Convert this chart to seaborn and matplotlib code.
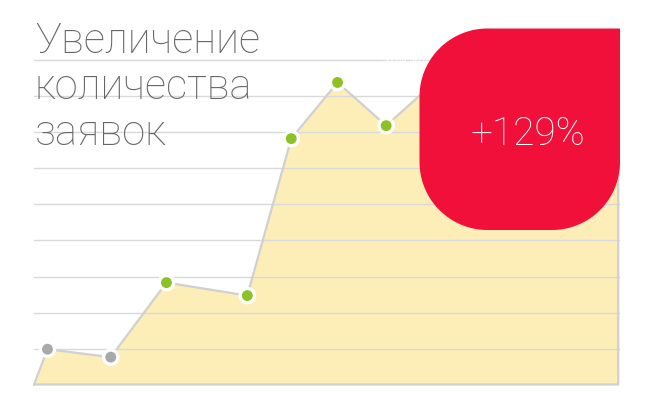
import matplotlib
matplotlib.use("Agg")
import matplotlib.pyplot as plt
from matplotlib.patches import Polygon
import numpy as np
import pandas as pd
import seaborn as sns

# ===== DATA =====
# position along the period (0..100) and number of requests (grid step = 1)
period_pos = [0, 2.3, 13.1, 22.6, 36.4, 43.9, 51.8, 60.1, 67.7, 75.5, 83.0, 91.0, 99.7]
requests = [0, 0.98, 0.76, 2.83, 2.47, 6.83, 8.39, 7.19, 8.3, 7.9, 8.6, 8.2, 8.0]
point_kind = ["old", "old", "new", "new", "new", "new", "new", "new", "new", "new", "new"]

title_lines = ["Увеличение", "количества", "заявок"]
badge_text = "+129%"
date_label = "22.08.2018"

FILL = "#fdeeb8"
LINE = "#d0d0d0"
GRID = "#d9d9d9"
RED = "#f0103a"
GREEN = "#8cc224"
GRAY = "#a9a9ad"
TEXT = "#666666"

sns.set_style("white")
plt.rcParams["font.family"] = ["Roboto", "DejaVu Sans"]

fig = plt.figure(figsize=(6.56, 4.11), dpi=100)

# main chart area (pixel layout of the original)
ax = fig.add_axes([34 / 656, 26.5 / 411, (620 - 34) / 656, 384.5 / 411])
ax.set_xlim(0, 100)
ax.set_ylim(0, 384.5 / 36)

ax.fill_between(period_pos, requests, color=FILL, lw=0, zorder=1)
ax.set_yticks(range(1, 10))
ax.grid(axis="y", color=GRID, lw=1.0, zorder=2)
ax.set_axisbelow(False)

# outline of the area: up the data, down the right edge, back along the base
outline = pd.DataFrame({
    "x": period_pos + [period_pos[-1], period_pos[0]],
    "y": requests + [0, 0],
})
sns.lineplot(data=outline, x="x", y="y", sort=False, estimator=None,
             color=LINE, lw=1.6, ax=ax, zorder=3, clip_on=False)

pts = pd.DataFrame({
    "x": period_pos[1:-1],
    "y": requests[1:-1],
    "kind": point_kind,
})
sns.scatterplot(data=pts, x="x", y="y", hue="kind",
                palette={"old": GRAY, "new": GREEN}, s=105,
                edgecolor="white", linewidth=2.4, ax=ax, zorder=4,
                legend=False, clip_on=False)

ax.set_xticks([])
ax.tick_params(left=False, labelleft=False)
ax.set_xlabel("")
ax.set_ylabel("")
sns.despine(ax=ax, left=True, bottom=True)

# overlay in pixel coordinates for the title and the badge
ov = fig.add_axes([0, 0, 1, 1], facecolor="none")
ov.set_xlim(0, 656)
ov.set_ylim(411, 0)
ov.axis("off")

for i, line in enumerate(title_lines):
    ov.text(35, 53 + i * 46, line, fontsize=30, fontweight="light",
            color=TEXT, va="baseline", ha="left")

ov.text(432, 63, date_label, fontsize=7, color="white", ha="right", va="center")


def badge_shape(x0, y0, x1, y1, r):
    # rounded box with square top-right corner (y grows downwards)
    def arc(cx, cy, a0, a1):
        t = np.radians(np.linspace(a0, a1, 30))
        return np.column_stack([cx + r * np.cos(t), cy + r * np.sin(t)])
    parts = [
        [[x1, y0]],
        arc(x1 - r, y1 - r, 0, 90),
        arc(x0 + r, y1 - r, 90, 180),
        arc(x0 + r, y0 + r, 180, 270),
    ]
    return np.vstack(parts)


ov.add_patch(Polygon(badge_shape(419.5, 28.5, 620, 230, 68), closed=True,
                     facecolor=RED, edgecolor="none", zorder=5))
ov.text(528.5, 145, badge_text, fontsize=28, fontweight="light", color="white",
        ha="center", va="baseline", zorder=6)

fig.savefig("out.png", dpi=100)
